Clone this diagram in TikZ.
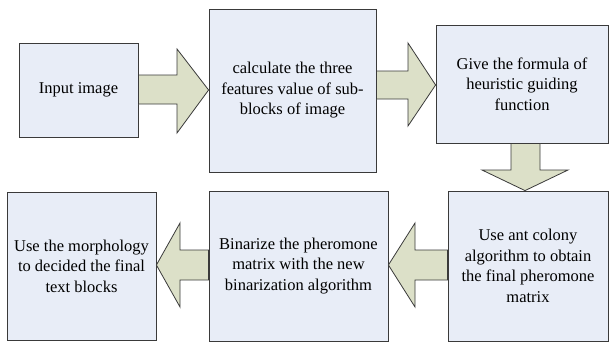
\documentclass[tikz,border=0pt]{standalone}
\usepackage{fontspec}
\setmainfont{Liberation Serif}
\usetikzlibrary{calc}
\definecolor{boxfill}{HTML}{E8EDF7}
\definecolor{arrfill}{HTML}{DCE0C8}
\definecolor{edge}{HTML}{3A3A3A}
\tikzset{
  blk/.style={draw=edge, line width=0.8pt, fill=boxfill, align=center, inner sep=0pt,
    font=\fontsize{16.5}{20.5}\selectfont},
  barrow/.style={draw=edge, line width=0.8pt, fill=arrfill, line join=miter}
}
\begin{document}
\begin{tikzpicture}[x=1pt,y=-1pt]
\useasboundingbox (0,0) rectangle (610,345);
\node[blk, minimum width=119pt, minimum height=94pt] (b1) at (78.5,90) {Input image};
\node[blk, minimum width=167pt, minimum height=163pt] (b2) at (292.5,90.5) {calculate the three\\features value of sub-\\blocks of image};
\node[blk, minimum width=172pt, minimum height=118pt] (b3) at (522,84) {Give the formula of\\heuristic guiding\\function};
\node[blk, minimum width=160pt, minimum height=150pt] (b4) at (528,266) {Use ant colony\\algorithm to obtain\\the final pheromone\\matrix};
\node[blk, minimum width=179pt, minimum height=150pt] (b5) at (298.5,266) {Binarize the pheromone\\matrix with the new\\binarization algorithm};
\node[blk, minimum width=149pt, minimum height=148pt] (b6) at (81.5,266) {Use the morphology\\to decided the final\\text blocks};
% arrow 1
\draw[barrow] (b1.east |- 0,75) -- (177,75) -- (177,49) -- (b2.west |- 0,90) -- (177,133) -- (177,104) -- (b1.east |- 0,104) -- cycle;
% arrow 2
\draw[barrow] (b2.east |- 0,71) -- (408,71) -- (408,43) -- (b3.west |- 0,85) -- (408,126) -- (408,99) -- (b2.east |- 0,99) -- cycle;
% arrow down
\draw[barrow] (b3.south -| 511,0) -- (511,170) -- (482,170) -- (b4.north -| 525,0) -- (568,170) -- (540,170) -- (b3.south -| 540,0) -- cycle;
% arrow 3
\draw[barrow] (b4.west |- 0,250) -- (415,250) -- (415,223) -- (b5.east |- 0,265) -- (415,307) -- (415,280) -- (b4.west |- 0,280) -- cycle;
% arrow 4
\draw[barrow] (b5.west |- 0,250) -- (180,250) -- (180,223) -- (b6.east |- 0,265) -- (180,307) -- (180,280) -- (b5.west |- 0,280) -- cycle;
\end{tikzpicture}
\end{document}
